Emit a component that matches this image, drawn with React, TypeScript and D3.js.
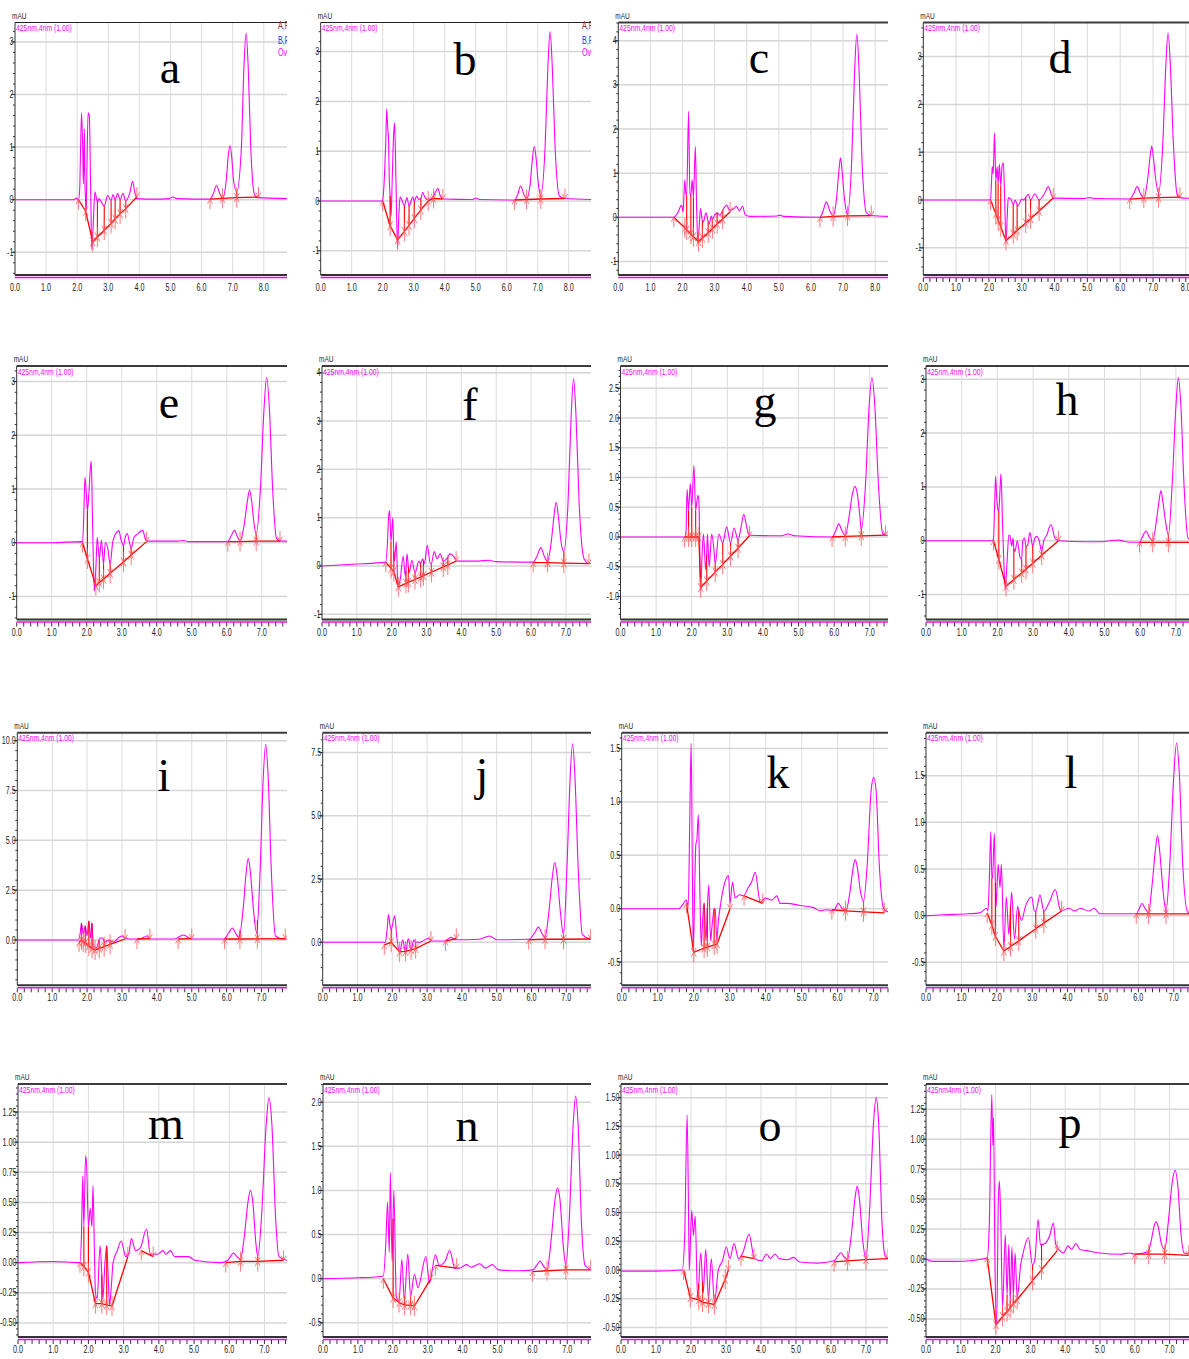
import React from "react";
import * as d3 from "d3";

type Pt = [number, number];
type Node = [number, number] | [number, number, number];

// ---- chromatogram traces: [time (min), absorbance (mAU)] ----
const traceA: Pt[] = [[0,0],[1.0,0.0],[1.9,0.0],[1.98,0.03],[2.04,0.0],[2.08,0.2],[2.1,0.7],[2.14,1.65],[2.18,0.9],[2.2,0.3],[2.23,1.35],[2.25,0.3],[2.27,0.0],[2.29,-0.2],[2.31,0.5],[2.35,1.65],[2.39,1.6],[2.43,0.3],[2.47,-0.95],[2.52,-0.4],[2.57,0.15],[2.61,0.05],[2.65,-0.05],[2.7,0.02],[2.78,-0.05],[2.87,-0.12],[2.98,0.08],[3.09,-0.02],[3.15,0.1],[3.22,0.0],[3.3,0.12],[3.38,0.0],[3.47,0.12],[3.56,-0.02],[3.7,0.15],[3.78,0.35],[3.85,0.15],[3.92,0.02],[4.5,0.01],[4.95,0.02],[5.07,0.05],[5.2,0.02],[6.27,0.01],[6.38,0.12],[6.48,0.27],[6.58,0.12],[6.67,0.03],[6.79,0.35],[6.85,0.8],[6.91,1.03],[6.97,0.8],[7.03,0.35],[7.13,0.15],[7.28,1.0],[7.36,2.5],[7.43,3.17],[7.5,2.5],[7.58,1.0],[7.7,0.1],[7.8,0.04],[8.75,0.02]];
const traceB: Pt[] = [[0,0],[1.0,0.0],[1.97,0.0],[2.0,0.02],[2.04,0.3],[2.06,0.55],[2.1,1.2],[2.13,1.85],[2.16,1.5],[2.19,1.2],[2.21,0.5],[2.24,0.1],[2.27,-0.3],[2.31,0.5],[2.35,1.3],[2.38,1.57],[2.41,1.0],[2.44,0.0],[2.48,-0.95],[2.52,-0.3],[2.56,0.08],[2.62,0.02],[2.7,-0.1],[2.78,0.07],[2.85,-0.1],[2.97,0.08],[3.02,0.0],[3.1,0.1],[3.16,0.03],[3.23,0.05],[3.29,0.17],[3.37,0.06],[3.47,0.02],[3.64,0.1],[3.78,0.25],[3.86,0.1],[3.94,0.04],[4.9,0.03],[5.0,0.06],[5.12,0.03],[6.25,0.02],[6.35,0.12],[6.45,0.3],[6.55,0.14],[6.64,0.05],[6.76,0.35],[6.83,0.85],[6.89,1.1],[6.95,0.85],[7.02,0.35],[7.1,0.12],[7.24,1.1],[7.33,2.7],[7.4,3.4],[7.47,2.7],[7.56,1.1],[7.7,0.1],[7.88,0.05],[8.72,0.03]];
const traceC: Pt[] = [[0,0],[1.0,0.0],[1.73,0.0],[1.85,0.1],[1.97,0.27],[2.02,0.12],[2.07,0.85],[2.1,0.55],[2.13,0.5],[2.19,2.4],[2.23,0.5],[2.26,0.5],[2.3,0.85],[2.34,0.45],[2.4,1.6],[2.44,0.2],[2.48,-0.6],[2.52,-0.2],[2.56,0.2],[2.62,-0.08],[2.65,-0.1],[2.73,0.1],[2.8,-0.1],[2.83,-0.15],[2.9,0.03],[2.93,-0.05],[3.0,0.05],[3.08,0.1],[3.16,0.05],[3.25,0.15],[3.37,0.28],[3.48,0.15],[3.6,0.2],[3.68,0.25],[3.77,0.15],[3.87,0.25],[3.95,0.06],[4.1,0.02],[4.95,0.03],[5.03,0.05],[5.15,0.02],[6.28,0.0],[6.38,0.15],[6.48,0.35],[6.58,0.16],[6.69,0.03],[6.8,0.45],[6.87,1.05],[6.92,1.35],[6.97,1.05],[7.04,0.45],[7.14,0.08],[7.27,1.3],[7.36,3.3],[7.43,4.15],[7.5,3.3],[7.59,1.3],[7.73,0.1],[7.88,0.04],[8.4,0.02]];
const traceD: Pt[] = [[0,0],[1.0,0.0],[2.0,0.0],[2.05,0.02],[2.08,0.4],[2.1,0.7],[2.13,0.55],[2.17,1.4],[2.21,0.4],[2.25,0.7],[2.28,0.35],[2.32,0.75],[2.36,0.3],[2.4,0.7],[2.44,0.78],[2.48,0.0],[2.52,-0.9],[2.56,-0.3],[2.59,0.05],[2.67,0.02],[2.74,-0.1],[2.8,0.0],[2.86,-0.1],[2.89,-0.12],[3.0,0.02],[3.07,0.0],[3.12,0.05],[3.2,0.12],[3.27,0.0],[3.4,0.13],[3.53,0.0],[3.68,0.12],[3.81,0.28],[3.9,0.12],[3.96,0.04],[4.9,0.03],[5.08,0.05],[5.2,0.03],[6.29,0.02],[6.4,0.12],[6.52,0.28],[6.62,0.13],[6.72,0.04],[6.84,0.45],[6.91,0.9],[6.96,1.13],[7.01,0.9],[7.08,0.45],[7.17,0.15],[7.3,1.2],[7.39,2.8],[7.46,3.5],[7.53,2.8],[7.62,1.2],[7.74,0.1],[7.82,0.05],[8.3,0.03]];
const traceE: Pt[] = [[0,0],[1.0,0.0],[1.86,0.02],[1.88,0.0],[1.92,0.6],[1.95,1.22],[1.99,0.9],[2.02,0.6],[2.06,0.9],[2.1,1.35],[2.13,1.52],[2.16,0.6],[2.19,-0.35],[2.22,-0.9],[2.26,-0.5],[2.3,0.1],[2.36,-0.3],[2.42,0.05],[2.48,-0.4],[2.53,0.0],[2.6,-0.1],[2.67,-0.4],[2.74,0.0],[2.81,0.15],[2.92,0.22],[2.98,0.05],[3.05,-0.05],[3.1,0.1],[3.16,0.17],[3.22,0.0],[3.27,-0.1],[3.35,0.1],[3.43,0.15],[3.6,0.23],[3.66,0.1],[3.71,0.03],[4.6,0.03],[4.76,0.04],[4.9,0.02],[6.03,0.02],[6.12,0.12],[6.22,0.23],[6.31,0.1],[6.38,0.03],[6.5,0.35],[6.59,0.78],[6.65,0.98],[6.71,0.78],[6.78,0.35],[6.84,0.15],[6.96,1.0],[7.06,2.45],[7.14,3.08],[7.22,2.45],[7.31,1.0],[7.42,0.08],[7.52,0.03],[7.72,0.03]];
const traceF: Pt[] = [[0,0],[0.5,0.02],[1.0,0.04],[1.5,0.06],[1.83,0.08],[1.88,0.5],[1.91,1.0],[1.94,1.15],[1.98,0.5],[2.03,1.0],[2.06,0.3],[2.08,0.1],[2.13,0.5],[2.18,-0.4],[2.24,-0.3],[2.33,0.2],[2.39,-0.2],[2.41,-0.1],[2.44,0.25],[2.5,-0.15],[2.58,0.12],[2.67,-0.15],[2.78,0.1],[2.83,0.05],[2.89,0.15],[2.94,0.05],[3.02,0.43],[3.11,0.05],[3.14,0.05],[3.22,0.3],[3.3,0.15],[3.39,0.25],[3.48,0.1],[3.61,0.18],[3.67,0.25],[3.78,0.2],[3.87,0.1],[4.5,0.1],[4.78,0.12],[5.0,0.09],[6.06,0.08],[6.17,0.2],[6.28,0.38],[6.38,0.2],[6.47,0.1],[6.58,0.5],[6.66,1.05],[6.72,1.32],[6.78,1.05],[6.86,0.5],[6.94,0.3],[7.06,1.3],[7.15,3.1],[7.22,3.88],[7.29,3.1],[7.38,1.3],[7.52,0.15],[7.66,0.05],[7.72,0.05]];
const traceG: Pt[] = [[0,0],[1.0,0.0],[1.8,0.0],[1.84,0.1],[1.87,0.8],[1.91,0.45],[1.96,0.9],[2.0,0.5],[2.06,1.2],[2.11,0.45],[2.17,0.7],[2.2,0.6],[2.25,-0.9],[2.29,-0.3],[2.33,0.05],[2.39,-0.55],[2.42,-0.3],[2.44,0.05],[2.49,-0.5],[2.56,0.05],[2.62,-0.2],[2.66,-0.45],[2.76,0.05],[2.87,-0.1],[2.98,0.17],[3.09,-0.1],[3.19,0.15],[3.3,-0.05],[3.38,0.15],[3.46,0.38],[3.55,0.15],[3.62,0.03],[4.5,0.02],[4.7,0.05],[4.9,0.02],[5.94,0.0],[6.04,0.1],[6.13,0.22],[6.22,0.1],[6.31,0.03],[6.42,0.35],[6.51,0.72],[6.58,0.85],[6.65,0.72],[6.72,0.35],[6.76,0.12],[6.88,0.9],[6.98,2.2],[7.06,2.68],[7.14,2.2],[7.24,0.9],[7.36,0.06],[7.44,0.03],[7.51,0.03]];
const traceH: Pt[] = [[0,0],[1.0,0.0],[1.84,0.0],[1.89,0.02],[1.92,0.6],[1.95,1.2],[1.98,0.8],[2.01,0.6],[2.04,0.55],[2.07,0.9],[2.1,1.25],[2.14,0.4],[2.17,-0.2],[2.22,-0.9],[2.27,-0.4],[2.32,0.1],[2.35,0.1],[2.4,-0.1],[2.44,0.05],[2.46,-0.15],[2.49,-0.2],[2.56,0.0],[2.63,-0.3],[2.68,-0.35],[2.71,0.0],[2.76,0.05],[2.8,-0.1],[2.84,-0.1],[2.91,0.15],[2.99,-0.1],[3.05,0.05],[3.1,0.08],[3.17,0.0],[3.24,-0.2],[3.3,0.0],[3.38,0.1],[3.5,0.3],[3.61,0.05],[3.71,0.0],[4.5,-0.02],[4.87,-0.02],[5.15,0.0],[5.39,0.01],[5.71,-0.03],[5.98,-0.03],[6.07,0.08],[6.16,0.18],[6.26,0.06],[6.35,0.0],[6.45,0.35],[6.53,0.75],[6.58,0.93],[6.63,0.75],[6.71,0.35],[6.79,0.1],[6.9,1.1],[7.0,2.5],[7.07,3.03],[7.14,2.5],[7.23,1.0],[7.34,0.05],[7.54,0.0]];
const traceI: Pt[] = [[0,0],[1.0,0.0],[1.75,0.0],[1.8,0.3],[1.84,0.84],[1.89,0.3],[1.95,0.7],[2.0,0.2],[2.05,0.95],[2.1,0.1],[2.14,0.85],[2.18,-0.3],[2.27,-0.4],[2.37,0.1],[2.44,0.1],[2.51,-0.1],[2.61,0.0],[2.75,-0.1],[2.99,0.2],[3.09,0.1],[3.23,0.05],[3.5,0.05],[3.71,0.2],[3.8,0.05],[4.5,0.05],[4.76,0.25],[5.0,0.05],[5.92,0.05],[6.04,0.3],[6.16,0.6],[6.27,0.3],[6.35,0.1],[6.47,1.5],[6.56,3.4],[6.62,4.1],[6.68,3.4],[6.77,1.5],[6.86,0.35],[6.96,3.5],[7.05,8.2],[7.12,9.8],[7.19,8.2],[7.28,3.5],[7.4,0.2],[7.62,0.05],[7.73,0.05]];
const traceJ: Pt[] = [[0,0],[1.0,0.0],[1.8,0.0],[1.85,0.5],[1.89,1.1],[1.93,0.7],[1.97,0.5],[2.02,0.8],[2.07,1.05],[2.13,0.2],[2.21,-0.4],[2.3,0.1],[2.38,-0.4],[2.46,0.15],[2.54,-0.3],[2.62,0.1],[2.67,0.0],[2.79,0.0],[3.03,0.15],[3.15,0.05],[3.5,0.05],[3.69,0.2],[3.8,0.1],[4.5,0.12],[4.8,0.25],[5.0,0.1],[5.93,0.12],[6.08,0.35],[6.2,0.6],[6.3,0.35],[6.39,0.2],[6.5,1.2],[6.6,2.6],[6.67,3.15],[6.74,2.6],[6.83,1.2],[6.92,0.3],[7.02,3.0],[7.11,6.5],[7.18,7.85],[7.25,6.5],[7.34,3.0],[7.46,0.3],[7.7,0.12]];
const traceK: Pt[] = [[0,0],[1.0,0.0],[1.58,0.0],[1.7,0.04],[1.79,0.08],[1.85,0.03],[1.89,0.8],[1.93,1.55],[1.96,0.5],[1.99,-0.4],[2.03,0.2],[2.06,0.6],[2.09,0.65],[2.13,0.88],[2.17,0.2],[2.21,-0.35],[2.25,-0.1],[2.29,0.05],[2.34,-0.3],[2.38,0.0],[2.42,0.22],[2.47,-0.3],[2.5,-0.2],[2.53,-0.1],[2.57,0.0],[2.6,0.0],[2.64,-0.3],[2.69,-0.1],[2.73,0.0],[2.83,0.2],[2.97,0.31],[3.01,0.05],[3.08,0.25],[3.15,0.1],[3.27,0.13],[3.38,0.12],[3.52,0.2],[3.61,0.25],[3.71,0.34],[3.85,0.06],[3.99,0.1],[4.08,0.09],[4.17,0.08],[4.31,0.12],[4.4,0.05],[4.59,0.05],[4.96,0.03],[5.33,0.01],[5.51,-0.02],[5.7,-0.01],[5.89,-0.02],[6.02,0.05],[6.13,0.0],[6.24,-0.01],[6.34,0.15],[6.43,0.38],[6.49,0.46],[6.55,0.38],[6.64,0.15],[6.72,0.07],[6.82,0.4],[6.93,1.1],[7.0,1.23],[7.07,1.1],[7.16,0.4],[7.28,0.0],[7.4,-0.03]];
const traceL: Pt[] = [[0,0],[0.5,0.01],[1.2,0.02],[1.52,0.03],[1.71,0.08],[1.75,0.05],[1.79,0.4],[1.83,0.9],[1.86,0.4],[1.88,0.4],[1.93,0.88],[1.96,0.35],[1.98,0.1],[2.04,0.55],[2.09,0.3],[2.13,0.55],[2.2,-0.35],[2.27,0.2],[2.34,-0.2],[2.39,0.1],[2.42,0.25],[2.5,-0.25],[2.59,0.1],[2.62,0.05],[2.7,-0.05],[2.81,0.1],[2.99,0.2],[3.06,0.05],[3.1,0.05],[3.22,0.22],[3.33,0.05],[3.49,0.15],[3.65,0.28],[3.81,0.05],[4.04,0.08],[4.2,0.05],[4.36,0.08],[4.6,0.05],[4.75,0.08],[4.91,0.02],[5.94,0.02],[6.02,0.07],[6.1,0.13],[6.2,0.07],[6.29,0.03],[6.38,0.3],[6.48,0.7],[6.54,0.86],[6.6,0.7],[6.69,0.3],[6.78,0.05],[6.88,0.5],[7.0,1.5],[7.08,1.85],[7.16,1.5],[7.26,0.5],[7.4,0.03],[7.6,0.02]];
const traceM: Pt[] = [[0,0],[1.0,0.01],[1.76,0.0],[1.8,0.2],[1.84,0.72],[1.87,0.3],[1.92,0.89],[1.95,0.8],[2.0,0.3],[2.05,0.45],[2.1,0.3],[2.13,0.64],[2.17,0.1],[2.2,-0.25],[2.25,-0.3],[2.33,0.14],[2.38,-0.1],[2.41,-0.3],[2.47,0.0],[2.52,0.14],[2.56,-0.1],[2.6,-0.35],[2.65,-0.2],[2.7,0.0],[2.82,0.1],[2.93,0.18],[3.06,0.05],[3.15,0.08],[3.22,0.2],[3.34,0.1],[3.47,0.12],[3.65,0.28],[3.76,0.07],[3.96,0.07],[4.12,0.1],[4.2,0.07],[4.33,0.1],[4.45,0.05],[4.85,0.05],[5.02,0.02],[5.75,0.0],[5.96,0.02],[6.12,0.08],[6.22,0.05],[6.32,0.03],[6.42,0.2],[6.53,0.5],[6.6,0.6],[6.67,0.5],[6.76,0.15],[6.81,0.05],[6.92,0.4],[7.05,1.15],[7.13,1.37],[7.21,1.15],[7.32,0.35],[7.41,0.05],[7.64,0.02]];
const traceN: Pt[] = [[0,0],[1.0,0.01],[1.5,0.02],[1.73,0.03],[1.8,0.4],[1.85,0.87],[1.9,0.3],[1.93,1.2],[1.98,0.2],[2.03,1.0],[2.1,-0.2],[2.18,-0.25],[2.26,0.22],[2.33,-0.25],[2.43,0.28],[2.51,-0.2],[2.62,0.05],[2.72,-0.1],[2.95,0.25],[3.05,-0.05],[3.22,0.27],[3.33,0.15],[3.5,0.2],[3.63,0.32],[3.78,0.12],[3.91,0.12],[4.11,0.16],[4.24,0.13],[4.49,0.17],[4.65,0.12],[4.85,0.16],[5.03,0.1],[5.56,0.09],[6.02,0.1],[6.12,0.15],[6.22,0.2],[6.32,0.14],[6.42,0.1],[6.54,0.45],[6.65,0.9],[6.72,1.03],[6.79,0.9],[6.88,0.4],[6.96,0.15],[7.06,0.7],[7.17,1.75],[7.24,2.07],[7.31,1.75],[7.41,0.6],[7.51,0.15],[7.68,0.1]];
const traceO: Pt[] = [[0,-0.01],[1.0,-0.01],[1.75,0.0],[1.82,0.3],[1.89,1.35],[1.93,0.5],[1.95,0.0],[1.99,0.3],[2.02,0.52],[2.07,0.3],[2.12,0.47],[2.19,-0.25],[2.28,0.15],[2.35,-0.2],[2.42,0.18],[2.5,-0.25],[2.58,0.1],[2.67,-0.28],[2.78,0.0],[2.9,0.08],[3.01,0.2],[3.11,0.1],[3.23,0.23],[3.36,0.1],[3.48,0.15],[3.66,0.31],[3.81,0.1],[4.02,0.08],[4.16,0.14],[4.27,0.1],[4.4,0.14],[4.52,0.1],[4.77,0.09],[4.93,0.11],[5.1,0.07],[5.6,0.06],[6.09,0.08],[6.19,0.12],[6.29,0.15],[6.38,0.11],[6.47,0.09],[6.58,0.3],[6.69,0.63],[6.75,0.73],[6.81,0.63],[6.91,0.25],[7.0,0.1],[7.1,0.5],[7.22,1.3],[7.29,1.5],[7.36,1.3],[7.46,0.4],[7.55,0.12],[7.63,0.1]];
const traceP: Pt[] = [[0,0],[0.2,-0.02],[0.8,-0.02],[1.4,-0.01],[1.76,0.01],[1.82,0.3],[1.89,1.37],[1.92,0.95],[1.94,1.18],[1.98,0.0],[2.03,-0.55],[2.08,0.5],[2.11,0.65],[2.15,0.3],[2.2,-0.4],[2.28,0.2],[2.33,-0.3],[2.38,0.12],[2.42,-0.35],[2.47,0.1],[2.51,-0.3],[2.56,0.05],[2.62,-0.32],[2.72,-0.05],[2.79,0.05],[2.94,0.18],[3.06,-0.05],[3.13,0.0],[3.22,0.33],[3.29,0.12],[3.42,0.13],[3.56,0.2],[3.66,0.3],[3.73,0.12],[3.85,0.07],[3.94,0.05],[4.09,0.11],[4.18,0.08],[4.31,0.13],[4.42,0.08],[4.61,0.07],[5.0,0.05],[5.57,0.04],[5.86,0.05],[6.0,0.04],[6.38,0.06],[6.47,0.15],[6.56,0.28],[6.62,0.31],[6.68,0.26],[6.77,0.12],[6.86,0.08],[6.96,0.3],[7.08,0.65],[7.16,0.74],[7.24,0.6],[7.33,0.2],[7.42,0.05],[7.6,0.04]];

// ---- integration baselines: segments of [time, mAU, dropLine?] ----
const baseA: Node[][] = [[[2.04,0],[2.27,-0.22,1],[2.5,-0.8],[2.65,-0.71,1],[2.87,-0.58,1],[3.09,-0.45,1],[3.22,-0.37,1],[3.38,-0.27,1],[3.56,-0.17,1],[3.92,0.05]],[[6.27,0.01],[6.67,0.025,1],[7.13,0.04,1],[7.83,0.05]]];
const baseB: Node[][] = [[[2.0,0],[2.24,-0.5,1],[2.48,-0.78],[2.7,-0.61,1],[2.85,-0.49,1],[3.02,-0.35,1],[3.23,-0.18,1],[3.47,0.0],[3.64,0.05],[3.94,0.04]],[[6.25,0.02],[6.64,0.03,1],[7.1,0.04,1],[7.88,0.05]]];
const baseC: Node[][] = [[[1.73,0],[2.07,-0.24],[2.13,-0.29,1],[2.26,-0.38,1],[2.34,-0.44,1],[2.5,-0.55],[2.62,-0.47,1],[2.8,-0.35,1],[2.93,-0.26,1],[3.08,-0.15,1],[3.25,-0.04,1],[3.48,0.12]],[[6.28,0],[6.69,0.02,1],[7.14,0.03,1],[7.88,0.04]]];
const baseD: Node[][] = [[[2.05,0],[2.21,-0.29,1],[2.28,-0.42,1],[2.36,-0.56,1],[2.52,-0.85],[2.74,-0.71,1],[2.86,-0.64,1],[3.12,-0.48,1],[3.27,-0.39,1],[3.53,-0.23,1],[3.96,0.04]],[[6.29,0.02],[6.72,0.04,1],[7.17,0.05,1],[7.82,0.06]]];
const baseE: Node[][] = [[[1.88,0],[2.02,-0.3,1],[2.26,-0.8],[2.36,-0.74,1],[2.48,-0.68,1],[2.67,-0.57,1],[3.05,-0.36,1],[3.27,-0.23,1],[3.71,0.02]],[[6.03,0.02],[6.38,0.02,1],[6.84,0.03,1],[7.52,0.03]]];
const baseF: Node[][] = [[[1.83,0.08],[1.98,-0.05,1],[2.06,-0.12,1],[2.19,-0.43],[2.41,-0.36,1],[2.48,-0.34,1],[2.67,-0.28,1],[2.83,-0.23,1],[2.91,-0.2,1],[3.14,-0.13,1],[3.48,-0.02,1],[3.61,0.02,1],[3.85,0.1]],[[6.06,0.07],[6.47,0.07,1],[6.94,0.06,1],[7.66,0.05]]];
const baseG: Node[][] = [[[1.8,0],[1.91,0.0,1],[2.0,0.0,1],[2.11,0.0,1],[2.2,0.0],[2.25,-0.85],[2.42,-0.74,1],[2.66,-0.59,1],[2.87,-0.46,1],[3.09,-0.32,1],[3.3,-0.19,1],[3.62,0.02]],[[5.94,0],[6.31,0.01,1],[6.76,0.02,1],[7.44,0.03]]];
const baseH: Node[][] = [[[1.89,0],[2.04,-0.35,1],[2.24,-0.85],[2.46,-0.72,1],[2.68,-0.6,1],[2.8,-0.53,1],[2.99,-0.42,1],[3.24,-0.27,1],[3.71,0]],[[5.98,-0.03],[6.35,-0.03,1],[6.79,-0.03,1],[7.45,-0.03]]];
const baseI: Node[][] = [[[1.77,-0.1],[1.84,0.0,1],[1.89,-0.1],[1.95,-0.15,1],[2.05,-0.3,1],[2.14,-0.42,1],[2.23,-0.5],[2.35,-0.42,1],[2.49,-0.33,1],[2.66,-0.22,1],[3.09,0.05]],[[3.43,0.05],[3.8,0.07]],[[4.61,0.05],[5.0,0.07]],[[5.94,0.05],[6.38,0.05,1],[6.88,0.06,1],[7.68,0.07]]];
const baseJ: Node[][] = [[[1.77,-0.1],[1.97,0.0,1],[2.21,-0.38],[2.38,-0.36,1],[2.54,-0.3,1],[2.67,-0.25,1],[3.11,0.05]],[[3.53,0.05],[3.84,0.15]],[[5.92,0.1],[6.39,0.12,1],[6.92,0.12,1],[7.7,0.13]]];
const baseK: Node[][] = [[[1.8,0.05],[2.0,-0.41],[2.29,-0.37,1],[2.38,-0.36,1],[2.57,-0.34,1],[2.65,-0.33],[3.01,0.0]],[[3.4,0.12],[3.92,0.05]],[[5.84,-0.01],[6.22,-0.02],[6.72,-0.03,1],[7.3,-0.04]]];
const baseL: Node[][] = [[[1.73,0.03],[1.86,-0.1,1],[1.96,-0.22,1],[2.2,-0.38],[2.39,-0.33,1],[2.62,-0.27,1],[3.1,-0.14,1],[3.33,-0.08,1],[3.83,0.05]],[[5.94,0.02],[6.29,0.02,1],[6.78,0.02,1],[7.45,0.02]]];
const baseM: Node[][] = [[[1.76,0.0],[1.87,-0.03,1],[2.0,-0.08,1],[2.2,-0.34],[2.38,-0.34,1],[2.52,-0.35,1],[2.67,-0.36],[3.12,0.05]],[[3.5,0.1],[3.84,0.05]],[[5.9,0.0],[6.32,0.01,1],[6.81,0.01,1],[7.54,0.02]]];
const baseN: Node[][] = [[[1.73,0.0],[2.01,-0.22,1],[2.18,-0.27,1],[2.34,-0.3,1],[2.51,-0.3,1],[2.62,-0.31],[3.09,0.0]],[[3.22,0.15],[3.83,0.12]],[[6.0,0.08],[6.42,0.09,1],[6.96,0.1,1],[7.67,0.1]]];
const baseO: Node[][] = [[[1.79,0.0],[1.98,-0.24],[2.22,-0.26,1],[2.33,-0.28,1],[2.5,-0.29,1],[2.67,-0.3],[2.98,-0.08],[3.07,0.0]],[[3.43,0.12],[3.8,0.1]],[[6.09,0.07],[6.47,0.08,1],[7.0,0.09,1],[7.63,0.1]]];
const baseP: Node[][] = [[[1.76,0.01],[2.01,-0.55],[2.2,-0.48,1],[2.33,-0.44,1],[2.42,-0.41,1],[2.51,-0.37,1],[2.62,-0.34,1],[3.06,-0.18,1],[3.32,-0.09,1],[3.77,0.07]],[[6.0,0.04],[6.4,0.04,1],[6.86,0.04,1],[7.55,0.03]]];

const panelLetters = ["a","b","c","d","e","f","g","h","i","j","k","l","m","n","o","p"];
const traces = [traceA,traceB,traceC,traceD,traceE,traceF,traceG,traceH,traceI,traceJ,traceK,traceL,traceM,traceN,traceO,traceP];
const baselines = [baseA,baseB,baseC,baseD,baseE,baseF,baseG,baseH,baseI,baseJ,baseK,baseL,baseM,baseN,baseO,baseP];
const channelLabels = ["425nm,4nm (1.00)","425nm,4nm (1.00)","425nm,4nm (1.00)","425nm,4nm (1.00)","425nm,4nm (1.00)","425nm,4nm (1.00)","425nm,4nm (1.00)","425nm,4nm (1.00)","425nm,4nm (1.00)","425nm,4nm (1.00)","425nm,4nm (1.00)","425nm,4nm (1.00)","425nm,4nm (1.00)","425nm,4nm (1.00)","425nm,4nm (1.00)","425nm4nm (1.00)"];
const yTickSteps = [1,1,1,1, 1,1,0.5,1, 2.5,2.5,0.5,0.5, 0.25,0.5,0.25,0.25];
const yTickDecimals = [0,0,0,0, 0,0,1,0, 1,1,1,1, 2,1,2,2];
const xAxisMax = [8.746,8.72,8.4,8.28, 7.72,7.72,7.51,7.535, 7.73,7.71,7.4,7.6, 7.64,7.68,7.63,7.73];
const yAxisRange: [number, number][] = [[-1.432,3.369],[-1.486,3.584],[-1.307,4.412],[-1.569,3.713],[-1.43,3.29],[-1.108,4.14],[-1.387,2.874],[-1.465,3.247],[-2.273,10.4],[-1.7,8.285],[-0.718,1.649],[-0.746,1.961],[-0.617,1.483],[-0.661,2.207],[-0.583,1.619],[-0.651,1.461]];
const sideLegendA = ["A,P", "B,P", "Ov"];
const sideLegendB = ["A,Pl", "B,Pl", "Ove"];

// ---- page layout (pixels) ----
const columnLeft = [[15,320.7,618.3,923.3],[16.7,322,620.5,926],[17.3,322.7,621.7,926],[18,323,621,926]];
const columnRight = [287,591,888,1195];
const rowTop = [22.5,366,732.7,1084];
const rowBottom = [275,619.5,985.3,1337];
const letterPos: [number, number][] = [[170,83],[465,75],[759,73],[1060,73],[169,418],[470,420],[765,417],[1067,415],[164,791],[482,790],[778,788],[1071,788],[166,1139],[467,1141],[770,1141],[1070,1138]];

const AXIS_FONT = '"Liberation Sans", Arial, sans-serif';
const SERIF = '"Liberation Serif", "Times New Roman", serif';
const MAGENTA = "#ff00ff";
const RED = "#ff0000";
const MARK = "#ff5a5a";
const NARROW = 0.72;

function valueAt(pts: Pt[], t: number): number {
  for (let k = 1; k < pts.length; k++) {
    if (t <= pts[k][0]) {
      const [t0, v0] = pts[k - 1];
      const [t1, v1] = pts[k];
      return v0 + ((v1 - v0) * (t - t0)) / (t1 - t0);
    }
  }
  return pts[pts.length - 1][1];
}

// condensed sans text, as drawn by the instrument software
function NarrowText({ x, y, anchor = "start", size = 10, fill = "#222", dy, children }: {
  x: number; y: number; anchor?: "start" | "middle" | "end"; size?: number; fill?: string; dy?: string; children: React.ReactNode;
}) {
  return (
    <text
      transform={`translate(${x},${y}) scale(${NARROW},1)`}
      textAnchor={anchor}
      dy={dy}
      fontSize={size}
      fontFamily={AXIS_FONT}
      fill={fill}
    >
      {children}
    </text>
  );
}

function Marker({ px, py, kind }: { px: number; py: number; kind: "start" | "end" | "mid" }) {
  const up = (
    <g>
      <line x1={px} y1={py} x2={px} y2={py + 10} />
      <polyline points={`${px - 2.5},${py + 4.5} ${px},${py} ${px + 2.5},${py + 4.5}`} fill="none" />
    </g>
  );
  const down = (
    <g>
      <line x1={px} y1={py} x2={px} y2={py - 10} />
      <polyline points={`${px - 2.5},${py - 4.5} ${px},${py} ${px + 2.5},${py - 4.5}`} fill="none" />
    </g>
  );
  return (
    <g stroke={MARK} strokeWidth={1} opacity={0.8}>
      {kind !== "end" && up}
      {kind !== "start" && down}
    </g>
  );
}

function Panel({ i }: { i: number }) {
  const row = Math.floor(i / 4);
  const col = i % 4;
  const left = columnLeft[row][col];
  const right = columnRight[col];
  const top = rowTop[row];
  const bottom = rowBottom[row];
  const x = d3.scaleLinear().domain([0, xAxisMax[i]]).range([left, right]);
  const y = d3.scaleLinear().domain(yAxisRange[i]).range([bottom, top]);
  const trace = traces[i];
  const line = d3.line<Pt>().x((d) => x(d[0])).y((d) => y(d[1])).curve(d3.curveMonotoneX);
  const segLine = d3.line<Node>().x((d) => x(d[0])).y((d) => y(d[1]));

  const step = yTickSteps[i];
  const [yLo, yHi] = yAxisRange[i];
  const majors: number[] = [];
  for (let k = Math.ceil(yLo / step - 1e-9); k <= Math.floor(yHi / step + 1e-9); k++) majors.push(k * step);
  const minorStep = step / 5;
  const minors: number[] = [];
  for (let k = Math.ceil(yLo / minorStep - 1e-9); k <= Math.floor(yHi / minorStep + 1e-9); k++) minors.push(k * minorStep);
  const xInts = d3.range(0, Math.floor(xAxisMax[i] + 1e-9) + 1);
  const xMinors = d3.range(0, Math.floor(xAxisMax[i] * 5) + 1).map((k) => k / 5);
  const showXTicks = i >= 3;
  const thinTop = i < 2;
  const clipId = `plotclip-${i}`;
  const legendClip = `legendclip-${i}`;

  return (
    <g>
      <defs>
        <clipPath id={clipId}>
          <rect x={left} y={top} width={right - left} height={bottom - top} />
        </clipPath>
        <clipPath id={legendClip}>
          <rect x={left} y={top - 10} width={right - left} height={bottom - top + 10} />
        </clipPath>
      </defs>
      {/* grid */}
      {xInts.filter((v) => v > 0).map((v) => (
        <line key={`gx${v}`} x1={x(v)} x2={x(v)} y1={top} y2={bottom} stroke="#dcdcdc" strokeWidth={1} />
      ))}
      {majors.map((v) => (
        <line key={`gy${v}`} x1={left} x2={right} y1={y(v)} y2={y(v)} stroke="#d6d6d6" strokeWidth={1.5} />
      ))}
      {/* frame */}
      <line x1={left} x2={right} y1={top} y2={top} stroke={thinTop ? "#222" : "#3c3c3c"} strokeWidth={thinTop ? 1 : 2} />
      <line x1={left} x2={left} y1={top} y2={bottom} stroke="#333" strokeWidth={1} />
      <line x1={left} x2={right} y1={bottom} y2={bottom} stroke="#333" strokeWidth={2} />
      <line x1={left} x2={right} y1={bottom + 2.5} y2={bottom + 2.5} stroke={MAGENTA} strokeWidth={1.5} />
      {/* y ticks */}
      {minors.map((v) => (
        <line key={`my${v}`} x1={left - 2} x2={left} y1={y(v)} y2={y(v)} stroke="#333" strokeWidth={1} />
      ))}
      {majors.map((v) => (
        <g key={`ty${v}`}>
          <line x1={left - 4} x2={left} y1={y(v)} y2={y(v)} stroke="#333" strokeWidth={1} />
          <NarrowText x={left - 1.5} y={y(v)} anchor="end" dy="0.35em">
            {v.toFixed(yTickDecimals[i])}
          </NarrowText>
        </g>
      ))}
      {/* x ticks */}
      {showXTicks &&
        xMinors.map((v) => (
          <line key={`mx${v}`} x1={x(v)} x2={x(v)} y1={bottom + 3} y2={bottom + 7} stroke="#333" strokeWidth={1} />
        ))}
      {xInts.map((v) => (
        <NarrowText key={`tx${v}`} x={x(v)} y={bottom + 16} anchor="middle">
          {v.toFixed(1)}
        </NarrowText>
      ))}
      <NarrowText x={left - 3} y={top - 4} size={9}>mAU</NarrowText>
      <NarrowText x={left + 1} y={top + 8.5} size={9.5} fill={MAGENTA}>
        {channelLabels[i]}
      </NarrowText>
      {(i === 0 || i === 1) && (
        <g clipPath={`url(#${legendClip})`}>
          {(i === 0 ? sideLegendA : sideLegendB).map((s, k) => (
            <NarrowText key={s} x={right - 9} y={top + [6.5, 21, 33][k]} size={10} fill={["#a0302a", "#2a2aff", MAGENTA][k]}>
              {s}
            </NarrowText>
          ))}
        </g>
      )}
      {/* trace and integration marks */}
      <g clipPath={`url(#${clipId})`}>
        <path d={line(trace) || ""} fill="none" stroke={MAGENTA} strokeWidth={1.1} strokeLinejoin="round" />
        {baselines[i].map((seg, s) => (
          <g key={`seg${s}`}>
            {seg.filter((n) => n[2] === 1).map((n) => (
              <line key={`dr${n[0]}`} x1={x(n[0])} x2={x(n[0])} y1={y(n[1])} y2={y(valueAt(trace, n[0]))} stroke={RED} strokeWidth={1.1} />
            ))}
            <path d={segLine(seg) || ""} fill="none" stroke={RED} strokeWidth={1.3} />
            {seg.map((n, k) => (
              <Marker key={`mk${k}`} px={x(n[0])} py={y(n[1])} kind={k === 0 ? "start" : k === seg.length - 1 ? "end" : "mid"} />
            ))}
          </g>
        ))}
      </g>
      <text x={letterPos[i][0]} y={letterPos[i][1]} textAnchor="middle" fontSize={46} fontFamily={SERIF} fill="#000">
        {panelLetters[i]}
      </text>
    </g>
  );
}

export default function App() {
  return (
    <svg
      width={1189}
      height={1359}
      viewBox="0 0 1189 1359"
      style={{ position: "absolute", left: 0, top: 0, background: "#fff" }}
    >
      <rect x={0} y={0} width={1189} height={1359} fill="#fff" />
      {panelLetters.map((_, i) => (
        <Panel key={i} i={i} />
      ))}
    </svg>
  );
}
